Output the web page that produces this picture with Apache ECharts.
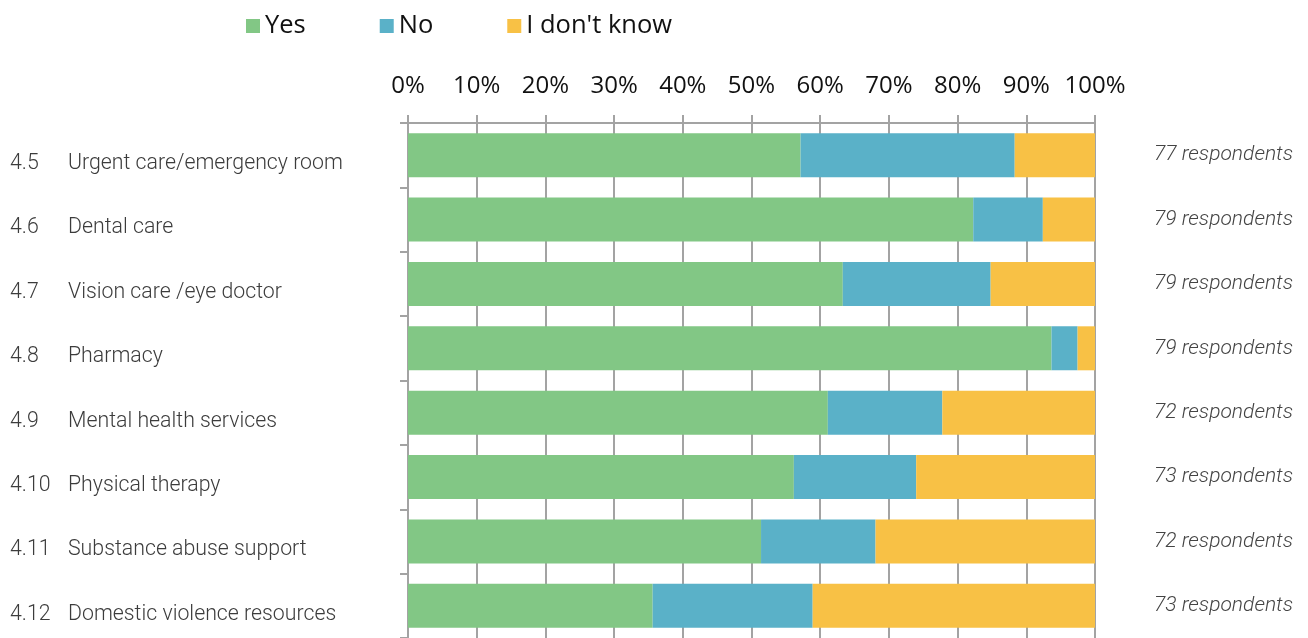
<!DOCTYPE html>
<html>
<head>
<meta charset="utf-8">
<script src="https://cdn.jsdelivr.net/npm/echarts@6/dist/echarts.min.js"></script>
<style>
  html, body { margin: 0; padding: 0; background: #fff; }
  #chart { width: 1308px; height: 638px; }
</style>
</head>
<body>
<div id="chart"></div>
<script>
const codes = ['4.5', '4.6', '4.7', '4.8', '4.9', '4.10', '4.11', '4.12'];
const services = [
  'Urgent care/emergency room',
  'Dental care',
  'Vision care /eye doctor',
  'Pharmacy',
  'Mental health services',
  'Physical therapy',
  'Substance abuse support',
  'Domestic violence resources'
];
// answer counts per question
const yes = [44, 65, 50, 74, 44, 41, 37, 26];
const no = [24, 8, 17, 3, 12, 13, 12, 17];
const dontKnow = [9, 6, 12, 2, 16, 19, 23, 30];
const respondents = [77, 79, 79, 79, 72, 73, 72, 73];

const share = arr => arr.map((v, i) => v / respondents[i] * 100);

const chart = echarts.init(document.getElementById('chart'));

const gridLine = '#a3a3a3';

chart.setOption({
  animation: false,
  color: ['#82c785', '#5ab1c8', '#f8c145'],
  legend: {
    top: 8,
    left: 241,
    itemWidth: 14,
    itemHeight: 14,
    itemGap: 74,
    icon: 'rect',
    textStyle: { fontFamily: 'Open Sans', fontSize: 25.5, color: '#111' },
    data: ['Yes', 'No', "I don't know"]
  },
  grid: { left: 408, top: 123, width: 687, height: 520 },
  xAxis: {
    type: 'value',
    position: 'top',
    min: 0,
    max: 100,
    interval: 10,
    axisLine: { show: true, lineStyle: { color: gridLine, width: 2 } },
    axisTick: { show: true, length: 8, lineStyle: { color: gridLine, width: 2 } },
    splitLine: { show: true, lineStyle: { color: gridLine, width: 2 } },
    axisLabel: {
      margin: 25,
      formatter: '{value}%',
      fontFamily: 'Open Sans',
      fontSize: 24,
      color: '#111'
    }
  },
  yAxis: [
    {
      type: 'category',
      inverse: true,
      data: codes,
      axisLine: { show: true, lineStyle: { color: gridLine, width: 2 } },
      axisTick: { show: true, length: 8, lineStyle: { color: gridLine, width: 2 } },
      axisLabel: {
        align: 'left',
        margin: 398,
        padding: [17, 0, 0, 0],
        formatter: (v, i) => '{num|' + v + '}{name|' + services[i] + '}',
        rich: {
          num: { width: 58, fontFamily: 'Roboto', fontWeight: 300, fontSize: 21.3, color: '#3c3c3c' },
          name: { fontFamily: 'Roboto', fontWeight: 300, fontSize: 21.3, color: '#3c3c3c' }
        }
      }
    },
    {
      type: 'category',
      inverse: true,
      position: 'right',
      data: respondents.map(n => n + ' respondents'),
      axisLine: { show: false },
      axisTick: { show: false },
      axisLabel: {
        align: 'right',
        margin: 198,
        padding: [0, 0, 2, 0],
        fontFamily: 'Roboto',
        fontStyle: 'italic',
        fontWeight: 300,
        fontSize: 21,
        color: '#444'
      }
    }
  ],
  series: [
    { name: 'Yes', data: share(yes) },
    { name: 'No', data: share(no) },
    { name: "I don't know", data: share(dontKnow) }
  ].map(s => Object.assign({
    type: 'bar',
    stack: 'total',
    barWidth: 44,
    yAxisIndex: 0
  }, s))
});

window.addEventListener('resize', chart.resize);
</script>
</body>
</html>
